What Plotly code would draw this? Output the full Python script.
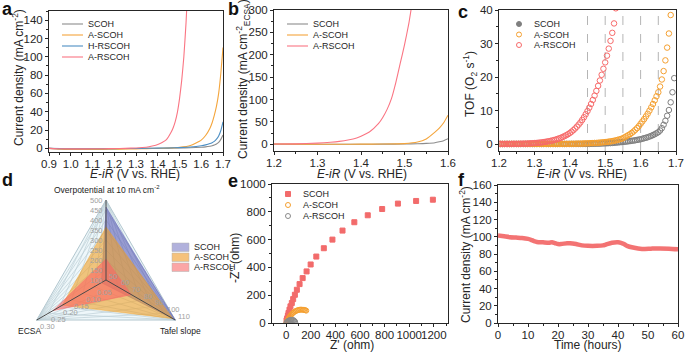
import math
import plotly.graph_objects as go

W, H = 685, 352
def fx(p): return p / W
def fy(p): return 1 - p / H

FONT = "Liberation Sans, Arial, sans-serif"
INK = "#262626"

COL_SCOH = "#8c8c8c"
COL_ASCOH = "#f4a53c"
COL_HRSCOH = "#4d8fc4"
COL_ARSCOH = "#fa7583"
COL_RED = "#f26b6b"

# ---------------- (a) LSV, geometric current density ----------------
lsv_potential = [0.90, 0.95, 1.00, 1.05, 1.10, 1.15, 1.20, 1.25, 1.30, 1.35, 1.40, 1.45,
                 1.50, 1.55, 1.60, 1.62, 1.64, 1.65, 1.66, 1.67, 1.68, 1.69, 1.70]
lsv_scoh = [0.0, -0.4, -0.6, -0.6, -0.5, -0.5, -0.4, -0.3, -0.2, 0.0, 0.1, 0.2,
            0.4, 0.7, 1.2, 1.6, 2.3, 2.8, 3.6, 4.8, 6.6, 9.8, 14.5]
lsv_ascoh = [0.0, -0.9, -1.2, -1.2, -1.2, -1.1, -1.0, -0.8, -0.6, -0.4, -0.1, 0.3,
             1.0, 3.0, 9.0, 14.0, 22.0, 28.0, 36.0, 46.0, 60.0, 82.0, 110.0]
lsv_hrscoh = [0.0, -0.3, -0.5, -0.5, -0.5, -0.4, -0.3, -0.2, -0.1, 0.1, 0.2, 0.4,
              0.8, 1.4, 2.8, 3.8, 5.2, 6.2, 7.6, 10.0, 13.5, 19.5, 29.0]
lsv_arscoh_potential = [0.90, 0.95, 1.00, 1.05, 1.10, 1.15, 1.20, 1.25, 1.30, 1.33, 1.36, 1.38,
                        1.40, 1.42, 1.44, 1.46, 1.47, 1.48, 1.49, 1.50, 1.51, 1.52, 1.53, 1.54]
lsv_arscoh = [0.0, -0.5, -0.6, -0.6, -0.5, -0.4, -0.2, 0.0, 0.4, 0.9, 1.8, 2.8,
              4.2, 6.3, 9.5, 17.0, 22.0, 29.0, 39.0, 54.0, 74.0, 100.0, 137.0, 185.0]

# ---------------- (b) LSV, ECSA-normalised ----------------
ecsa_potential = [1.20, 1.25, 1.30, 1.35, 1.40, 1.45, 1.50, 1.53, 1.55, 1.57, 1.58, 1.59, 1.60]
ecsa_scoh = [0.3, 0.2, 0.2, 0.2, 0.2, 0.3, 0.6, 1.2, 2.0, 3.5, 5.5, 8.0, 12.5]
ecsa_ascoh = [0.5, 0.3, 0.2, 0.2, 0.3, 0.6, 1.5, 5.0, 12.0, 27.0, 36.0, 48.0, 65.0]
ecsa_arscoh_potential = [1.20, 1.25, 1.30, 1.33, 1.35, 1.37, 1.39, 1.40, 1.42, 1.44, 1.45,
                         1.46, 1.47, 1.48, 1.49, 1.50, 1.51, 1.515, 1.52]
ecsa_arscoh = [0.5, 1.0, 2.5, 4.5, 6.5, 9.5, 14.0, 18.0, 28.0, 46.0, 60.0,
               78.0, 102.0, 138.0, 180.0, 222.0, 270.0, 300.0, 330.0]

# ---------------- (c) TOF (sweep from 1.200 V in 5 mV steps) ----------------
tof_start, tof_step = 1.200, 0.005
tof_scoh = [0.10, 0.10, 0.10, 0.10, 0.10, 0.10, 0.10, 0.10, 0.10, 0.10,
            0.10, 0.10, 0.10, 0.10, 0.10, 0.10, 0.10, 0.10, 0.10, 0.10,
            0.10, 0.10, 0.10, 0.10, 0.10, 0.10, 0.10, 0.10, 0.10, 0.10,
            0.10, 0.10, 0.10, 0.10, 0.10, 0.10, 0.10, 0.10, 0.10, 0.10,
            0.10, 0.10, 0.10, 0.10, 0.10, 0.10, 0.10, 0.10, 0.10, 0.10, 0.10,
            0.10, 0.15, 0.15, 0.15, 0.20, 0.20, 0.20, 0.25, 0.25, 0.30,
            0.30, 0.35, 0.35, 0.40, 0.45, 0.50, 0.55, 0.60, 0.65, 0.70,
            0.75, 0.80, 0.90, 0.95, 1.05, 1.10, 1.20, 1.30, 1.40, 1.50,
            1.65, 1.80, 1.95, 2.10, 2.30, 2.50, 2.75, 3.00, 3.30, 3.60,
            4.10, 4.80, 5.80, 7.00, 8.50, 10.2, 12.5, 15.5, 19.7]
tof_ascoh = [0.10, 0.10, 0.10, 0.10, 0.10, 0.10, 0.10, 0.10, 0.10, 0.10,
             0.10, 0.10, 0.10, 0.10, 0.10, 0.10, 0.10, 0.10, 0.10, 0.10,
             0.10, 0.10, 0.10, 0.10, 0.10, 0.10, 0.10, 0.10, 0.10, 0.10,
             0.10, 0.10, 0.10, 0.12, 0.12, 0.12, 0.12, 0.12, 0.12, 0.12, 0.12,
             0.15, 0.15, 0.15, 0.20, 0.20, 0.20, 0.20, 0.25, 0.25, 0.30,
             0.30, 0.35, 0.35, 0.40, 0.40, 0.45, 0.50, 0.55, 0.60, 0.65,
             0.70, 0.80, 0.85, 0.95, 1.05, 1.15, 1.30, 1.45, 1.60, 1.80,
             2.10, 2.40, 2.70, 3.00, 3.40, 3.80, 4.30, 4.80, 5.40, 6.10,
             6.80, 7.50, 8.30, 9.10, 10.0, 11.0, 12.0, 13.1, 14.3, 15.5,
             17.2, 19.3, 21.8, 25.0, 28.8, 33.0, 38.5]
tof_arscoh = [0.10, 0.10, 0.10, 0.10, 0.10, 0.10, 0.10, 0.12, 0.12, 0.12, 0.13,
              0.14, 0.15, 0.16, 0.18, 0.20, 0.22, 0.25, 0.28, 0.31, 0.35,
              0.39, 0.44, 0.50, 0.56, 0.63, 0.71, 0.80, 0.90, 1.00, 1.12,
              1.26, 1.40, 1.57, 1.75, 1.95, 2.18, 2.43, 2.70, 3.00, 3.35,
              3.75, 4.20, 4.70, 5.25, 5.85, 6.50, 7.25, 8.05, 8.95, 9.90,
              10.9, 12.0, 13.2, 14.5, 15.9, 17.4, 19.0, 20.7, 22.5, 24.4,
              26.4, 28.5, 30.8, 33.2, 36.0, 40.5]
tof_guides = [1.45, 1.50, 1.55, 1.60, 1.65]

# ---------------- (d) radar ----------------
radar_names = ["SCOH", "A-SCOH", "A-RSCOH"]
radar_overpotential = [465, 365, 205]   # mV at 10 mA cm-2
radar_tafel = [110, 108, 72]            # mV dec-1
radar_ecsa = [0.02, 0.19, 0.23]
overpot_ticks = [100, 150, 200, 250, 300, 350, 400, 450, 500]
tafel_ticks = [50, 60, 70, 80, 90, 100, 110]
ecsa_ticks = [0.05, 0.10, 0.15, 0.20, 0.25, 0.30]

# ---------------- (e) Nyquist ----------------
eis_scoh_re = [3, 8, 14, 19, 27, 35, 46, 57, 71, 87, 109, 134, 166, 199, 245, 306,
               376, 458, 554, 663, 780, 908, 1056, 1192]
eis_scoh_im = [19, 33, 53, 72, 96, 120, 144, 172, 203, 239, 280, 323, 371, 421, 478, 538,
               600, 665, 725, 775, 820, 859, 878, 887]
eis_ascoh_re = [3, 8, 14, 20, 27, 34, 42, 50, 59, 68, 78, 88, 98, 108, 118, 128, 138, 147, 155, 163]
eis_ascoh_im = [3, 12, 22, 32, 42, 51, 60, 68, 75, 81, 86, 90, 93, 95, 96, 96, 95, 94, 92, 89]
eis_arscoh_re = [3, 8, 14, 21, 29, 37, 45, 53, 60, 66, 71, 74]
eis_arscoh_im = [3, 8, 13, 17, 20, 22, 23, 22, 20, 16, 11, 5]

# ---------------- (f) stability ----------------
stab_time = [0, 2, 4, 6, 8, 10, 11, 12, 13, 15, 17, 18, 19, 20, 21, 23, 24, 26, 28, 30,
             33, 35, 36, 38, 40, 41, 42, 43, 45, 48, 51, 54, 57, 60]
stab_current = [101.5, 100.5, 99.5, 99, 98.5, 97.5, 96.5, 95, 94, 93.5,
                93, 93.5, 92.5, 91.5, 91.5, 92.5, 92.5, 91.5, 90, 89.5,
                89.5, 90, 91, 93, 93.5, 93, 91.5, 89.5, 87.5, 85.8,
                86.2, 86.5, 86.2, 85.5]

fig = go.Figure()

def add_line(x, y, color, xa, ya, width=1.1):
    fig.add_trace(go.Scatter(x=x, y=y, mode="lines", xaxis=xa, yaxis=ya, showlegend=False,
                             hoverinfo="skip",
                             line=dict(color=color, width=width, shape="spline", smoothing=0.5)))

def add_markers(x, y, color, xa, ya, symbol="circle-open", size=5.5):
    fig.add_trace(go.Scatter(x=x, y=y, mode="markers", xaxis=xa, yaxis=ya, showlegend=False,
                             hoverinfo="skip",
                             marker=dict(symbol=symbol, size=size, color=color, line=dict(color=color, width=1))))

# (a)
add_line(lsv_potential, lsv_scoh, COL_SCOH, "x", "y")
add_line(lsv_potential, lsv_ascoh, COL_ASCOH, "x", "y")
add_line(lsv_potential, lsv_hrscoh, COL_HRSCOH, "x", "y")
add_line(lsv_arscoh_potential, lsv_arscoh, COL_ARSCOH, "x", "y")
# (b)
add_line(ecsa_potential, ecsa_scoh, COL_SCOH, "x2", "y2")
add_line(ecsa_potential, ecsa_ascoh, COL_ASCOH, "x2", "y2")
add_line(ecsa_arscoh_potential, ecsa_arscoh, COL_ARSCOH, "x2", "y2")
# (c)
def sweep(vals):
    return [round(tof_start + tof_step * i, 3) for i in range(len(vals))]
add_markers(sweep(tof_scoh), tof_scoh, "#7f7f7f", "x3", "y3")
add_markers(sweep(tof_ascoh), tof_ascoh, "#f5a030", "x3", "y3")
add_markers(sweep(tof_arscoh), tof_arscoh, "#f76a6a", "x3", "y3")

# (d) radar drawn on hidden cartesian axes
R_ANG = [90, -30, 210]
radar_ranges = [(100, 500), (50, 110), (0.0, 0.30)]
def rpt(k, v):
    lo, hi = radar_ranges[k]
    f = (v - lo) / (hi - lo)
    a = math.radians(R_ANG[k])
    return f * math.cos(a), f * math.sin(a)

tips = [rpt(k, radar_ranges[k][1]) for k in range(3)]
fig.add_trace(go.Scatter(x=[t[0] for t in tips] + [tips[0][0]], y=[t[1] for t in tips] + [tips[0][1]],
                         mode="lines", fill="toself", fillcolor="rgba(226,241,246,0.6)",
                         line=dict(color="#a9c0c8", width=0.9), xaxis="x4", yaxis="y4",
                         showlegend=False, hoverinfo="skip"))
gx, gy = [], []
for k, ticks in enumerate([overpot_ticks, tafel_ticks, ecsa_ticks]):
    others = [j for j in range(3) if j != k]
    for v in ticks[1:-1] if k != 2 else ticks[:-1]:
        p = rpt(k, v)
        gx += [tips[others[0]][0], p[0], tips[others[1]][0], None]
        gy += [tips[others[0]][1], p[1], tips[others[1]][1], None]
fig.add_trace(go.Scatter(x=gx, y=gy, mode="lines", line=dict(color="#bccfd6", width=0.7),
                         xaxis="x4", yaxis="y4", showlegend=False, hoverinfo="skip"))

radar_fill = ["rgba(82,82,177,0.55)", "rgba(240,160,40,0.6)", "rgba(250,100,100,0.6)"]
radar_edge = ["rgba(82,82,177,0.7)", "rgba(240,160,40,0.7)", "rgba(250,100,100,0.7)"]
for i in range(3):
    pts = [rpt(0, radar_overpotential[i]), rpt(1, radar_tafel[i]), rpt(2, radar_ecsa[i])]
    pts.append(pts[0])
    fig.add_trace(go.Scatter(x=[p[0] for p in pts], y=[p[1] for p in pts], mode="lines",
                             fill="toself", fillcolor=radar_fill[i],
                             line=dict(color=radar_edge[i], width=0.6),
                             xaxis="x4", yaxis="y4", showlegend=False, hoverinfo="skip"))
sx, sy = [], []
for t in tips:
    sx += [0, t[0], None]
    sy += [0, t[1], None]
fig.add_trace(go.Scatter(x=sx, y=sy, mode="lines", line=dict(color="#4a4a4a", width=1),
                         xaxis="x4", yaxis="y4", showlegend=False, hoverinfo="skip"))

# (e)
add_markers(eis_scoh_re, eis_scoh_im, COL_RED, "x5", "y5", symbol="square", size=5)
add_markers(eis_ascoh_re, eis_ascoh_im, "#f5a030", "x5", "y5", size=5)
add_markers(eis_arscoh_re, eis_arscoh_im, "#8a8a8a", "x5", "y5", size=5)

# (f)
fig.add_trace(go.Scatter(x=stab_time, y=stab_current, mode="lines", xaxis="x6", yaxis="y6",
                         showlegend=False, hoverinfo="skip",
                         line=dict(color="rgba(242,100,100,0.9)", width=4.5, shape="spline", smoothing=0.6)))

# ---------------- axes ----------------
def axis(domain, rng, dtick, minor, anchor, tick0=0, fmt=None, standoff=0):
    d = dict(domain=domain, range=rng, dtick=dtick, tick0=tick0, anchor=anchor,
             showline=True, mirror=True, linecolor=INK, linewidth=1,
             ticks="outside", ticklen=3, tickwidth=1, tickcolor=INK, tickangle=0,
             ticklabelstandoff=standoff,
             tickfont=dict(size=11.5, color=INK, family=FONT),
             showgrid=False, zeroline=False, fixedrange=True, automargin=False,
             minor=dict(ticks="outside", ticklen=2, tickwidth=1, tickcolor=INK,
                        dtick=minor, tick0=tick0, showgrid=False))
    if fmt:
        d["tickformat"] = fmt
    return d

layout_axes = dict(
    xaxis=axis([fx(49), fx(223)], [0.9, 1.7], 0.1, 0.05, "y", tick0=0.9, fmt=".1f", standoff=-2),
    yaxis=axis([fy(152), fy(11)], [-4, 150], 20, 10, "x"),
    xaxis2=axis([fx(274), fx(448)], [1.2, 1.6], 0.1, 0.05, "y2", tick0=1.2, fmt=".1f", standoff=-2),
    yaxis2=axis([fy(151), fy(10)], [-15, 300], 50, 25, "x2"),
    xaxis3=axis([fx(499), fx(676)], [1.2, 1.7], 0.1, 0.05, "y3", tick0=1.2, fmt=".1f", standoff=-2),
    yaxis3=axis([fy(151), fy(10)], [-2, 40], 10, 5, "x3"),
    xaxis4=dict(domain=[fx(16), fx(196)], range=[-1.125, 1.125], visible=False, anchor="y4",
                fixedrange=True, automargin=False),
    yaxis4=dict(domain=[fy(340), fy(190)], range=[-0.75, 1.125], visible=False, anchor="x4",
                fixedrange=True, automargin=False),
    xaxis5=axis([fx(272), fx(448)], [-115, 1315], 200, 100, "y5", standoff=-2),
    yaxis5=axis([fy(323), fy(184)], [0, 1000], 200, 100, "x5"),
    xaxis6=axis([fx(498), fx(678)], [0, 60], 10, 5, "y6", standoff=-2),
    yaxis6=axis([fy(323), fy(185)], [0, 160], 20, 10, "x6"),
)

# ---------------- annotations & legends ----------------
ann = []
shapes = []

def text(xp, yp, s, size=9, anchor="left", color=INK, bold=False, angle=0):
    ann.append(dict(x=fx(xp), y=fy(yp), xref="paper", yref="paper", text=("<b>%s</b>" % s) if bold else s,
                    showarrow=False, xanchor=anchor, yanchor="middle", textangle=angle,
                    font=dict(size=size, color=color, family=FONT)))

# axis titles
EIR = "<i>E</i>-<i>iR</i> (V vs. RHE)"
CD = "Current density (mA cm<sup>-2</sup>)"
for (xp, yp), s in zip([(135, 174), (362, 174), (582, 174), (352, 344.5), (588, 344.5)],
                       [EIR, EIR, EIR, "Z' (ohm)", "Time (hours)"]):
    text(xp, yp, s, size=12, anchor="center")
for (xp, yp), s in zip([(18, 78), (243, 79), (470, 84), (235, 258), (465, 254)],
                       [CD, "Current density (mA cm<sup>-2</sup><sub>ECSA</sub>)",
                        "TOF (O<sub>2</sub> s<sup>-1</sup>)", '-Z" (ohm)', CD]):
    text(xp, yp, s, size=12, anchor="center", angle=-90)

# panel letters
for letter, (lx, ly) in zip("abcdef", [(0, 9), (226, 9), (456, 12), (0, 180), (226, 181), (456, 180)]):
    text(lx, ly, letter, size=18, bold=True, color="#111111")

def line_legend(x0, x1, tx, rows, names, colors):
    for yy, nm, c in zip(rows, names, colors):
        shapes.append(dict(type="line", xref="paper", yref="paper", x0=fx(x0), x1=fx(x1),
                           y0=fy(yy), y1=fy(yy), line=dict(color=c, width=1.1)))
        text(tx, yy, nm)

line_legend(62, 83, 86, [24, 35, 46, 57], ["SCOH", "A-SCOH", "H-RSCOH", "A-RSCOH"],
            [COL_SCOH, COL_ASCOH, COL_HRSCOH, COL_ARSCOH])
line_legend(287, 308, 311, [24, 35, 46], ["SCOH", "A-SCOH", "A-RSCOH"],
            [COL_SCOH, COL_ASCOH, COL_ARSCOH])

def marker_legend(cx, tx, rows, names, colors, kinds):
    for yy, nm, c, kd in zip(rows, names, colors, kinds):
        r = 2.5
        fill = c if kd.endswith("fill") else "rgba(0,0,0,0)"
        shapes.append(dict(type="rect" if kd.startswith("sq") else "circle", xref="paper", yref="paper",
                           x0=fx(cx - r), x1=fx(cx + r), y0=fy(yy + r), y1=fy(yy - r),
                           line=dict(color=c, width=1), fillcolor=fill))
        text(tx, yy, nm)

marker_legend(519, 532, [24, 34.5, 45], ["SCOH", "A-SCOH", "A-RSCOH"],
              ["#7f7f7f", "#f5a030", "#f76a6a"], ["circ_fill", "circ", "circ"])
marker_legend(288, 301, [194, 205, 216], ["SCOH", "A-SCOH", "A-RSCOH"],
              [COL_RED, "#f5a030", "#8a8a8a"], ["sq_fill", "circ", "circ"])

# radar legend
for (y0, y1), nm, c in zip([(243, 251.5), (253, 261.5), (263, 271.5)], radar_names,
                           ["#b1b1dc", "#f5c27c", "#fba6a6"]):
    shapes.append(dict(type="rect", xref="paper", yref="paper", x0=fx(172), x1=fx(189),
                       y0=fy(y1), y1=fy(y0), line=dict(color="#b0b0b0", width=0.5), fillcolor=c))
    text(192, (y0 + y1) / 2, nm)

# radar axis labels
def rtext(x, y, s, xanchor, xshift=0, yshift=0, size=7.5, color="#a0a0a0"):
    ann.append(dict(x=x, y=y, xref="x4", yref="y4", text=s, showarrow=False, xanchor=xanchor,
                    yanchor="middle", xshift=xshift, yshift=yshift,
                    font=dict(size=size, color=color, family=FONT)))

for v in overpot_ticks:
    p = rpt(0, v)
    rtext(p[0], p[1], str(v), "right", xshift=-1)
for v in tafel_ticks:
    p = rpt(1, v)
    rtext(p[0], p[1], str(v), "left", xshift=1, yshift=4)
for v in ecsa_ticks:
    p = rpt(2, v)
    rtext(p[0], p[1], "%.2f" % v, "left", xshift=1, yshift=-6)
rtext(tips[0][0], tips[0][1], "Overpotential at 10 mA cm<sup>-2</sup>", "center", yshift=11, size=8.5, color="#222222")
rtext(tips[2][0], tips[2][1], "ECSA", "center", xshift=-7, yshift=-11, size=8.5, color="#222222")
rtext(tips[1][0], tips[1][1], "Tafel slope", "center", xshift=5, yshift=-11, size=8.5, color="#222222")

# TOF guide lines
for g in tof_guides:
    shapes.append(dict(type="line", xref="x3", yref="y3 domain", x0=g, x1=g, y0=0, y1=1,
                       line=dict(color="#b5b5b5", width=1, dash="dash"), layer="below"))

fig.update_layout(
    width=W, height=H, margin=dict(l=0, r=0, t=0, b=0, autoexpand=False),
    paper_bgcolor="white", plot_bgcolor="white",
    font=dict(family=FONT, color=INK),
    showlegend=False, annotations=ann, shapes=shapes,
    **layout_axes,
)
fig.write_html("out.html", config={"displayModeBar": False},
               post_script="document.body.style.margin='0px';document.body.style.overflow='hidden';")
